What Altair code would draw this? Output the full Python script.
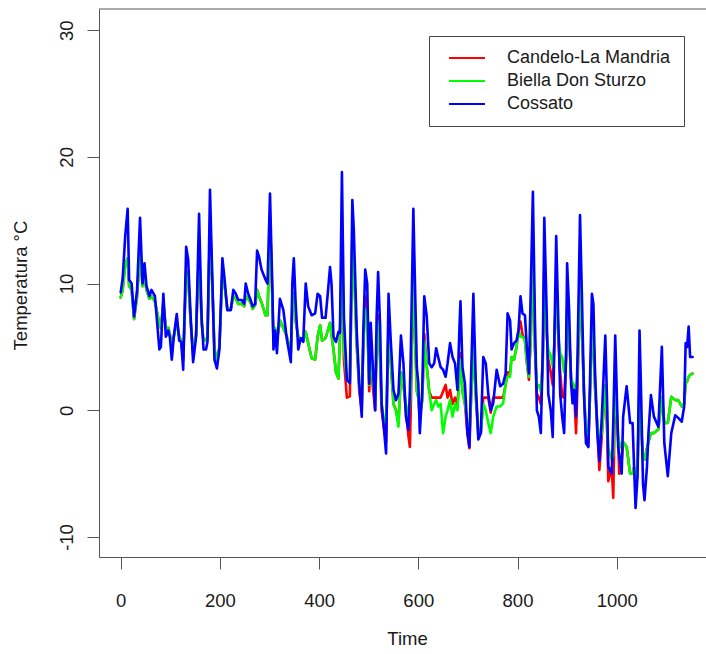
import altair as alt
import pandas as pd

# ---- data (time index, hourly temperatures in degC) ----
time = [
    0, 4, 9, 14, 17, 22, 27, 33, 39, 44,
    48, 52, 58, 62, 69, 78, 81, 86, 91, 96,
    99, 103, 107, 113, 118, 122, 126, 132, 136, 141,
    146, 152, 158, 163, 167, 172, 175, 180, 185, 189,
    194, 199, 205, 209, 215, 222, 227, 232, 237, 244,
    249, 252, 257, 262, 266, 271, 275, 279, 284, 292,
    296, 301, 306, 308, 311, 315, 321, 328, 335, 343,
    346, 349, 353, 358, 363, 368, 373, 378, 385, 392,
    397, 402, 406, 413, 417, 422, 425, 429, 434, 439,
    442, 446, 450, 456, 462, 467, 470, 476, 481, 486,
    489, 493, 497, 501, 504, 508, 513, 516, 519, 523,
    526, 531, 535, 540, 544, 550, 555, 560, 565, 570,
    575, 580, 583, 585, 590, 594, 597, 600, 603, 608,
    612, 617, 622, 627, 632, 636, 640, 645, 650, 655,
    659, 664, 669, 674, 679, 683, 685, 689, 694, 699,
    703, 706, 711, 716, 721, 726, 731, 736, 741, 746,
    751, 758, 765, 771, 776, 780, 785, 788, 793, 798,
    802, 806, 810, 815, 819, 823, 827, 831, 835, 839,
    843, 847, 851, 854, 859, 862, 867, 871, 874, 878,
    882, 886, 890, 894, 898, 900, 904, 908, 911, 914,
    918, 921, 926, 930, 934, 938, 943, 946, 950, 953,
    956, 961, 965, 970, 977, 981, 983, 990, 993, 997,
    1003, 1005, 1010, 1013, 1020, 1027, 1032, 1035, 1038, 1042,
    1046, 1049, 1053, 1056, 1061, 1064, 1069, 1075, 1084, 1091,
    1096, 1103, 1110, 1118, 1124, 1131, 1136, 1139, 1142, 1145,
    1148, 1153,
]

cossato = [
    9.3, 10.4, 13.7, 15.9, 10.3, 10.0, 7.4, 9.5, 15.2, 10.0,
    11.6, 9.8, 9.0, 9.5, 9.0, 4.8, 5.0, 9.2, 5.8, 6.3,
    5.8, 4.0, 5.8, 7.6, 5.5, 5.4, 3.2, 12.9, 11.9, 7.4,
    3.8, 5.8, 15.5, 7.4, 4.8, 4.8, 5.4, 17.4, 10.0, 4.0,
    3.3, 4.8, 12.0, 10.5, 7.9, 7.9, 9.5, 9.2, 8.7, 8.7,
    8.4, 10.0, 9.2, 8.7, 8.2, 8.4, 12.6, 12.1, 11.1, 10.3,
    10.0, 17.1, 9.2, 4.8, 6.3, 4.5, 8.8, 7.9, 5.6, 3.8,
    10.0, 12.0, 8.2, 4.8, 5.7, 5.4, 10.0, 8.2, 7.5, 7.65,
    9.2, 9.0, 7.3, 7.3, 9.0, 11.3, 10.0, 5.8, 5.4, 6.2,
    6.1, 18.8, 7.4, 2.4, 2.15, 16.6, 14.2, 6.1, 2.1, -0.5,
    6.1, 11.1, 10.0, 2.1, 6.9, 3.7, 0.0, 7.4, 10.9, 6.6,
    0.55, -1.55, -3.4, 9.2, 5.8, 1.6, 0.8, 1.3, 5.9, 3.7,
    -0.5, -1.55, 1.5, 4.8, 15.9, 8.7, 3.4, 2.1, -1.8, 1.6,
    9.0, 7.4, 3.7, 3.4, 3.7, 4.9, 4.2, 3.4, 3.2, 2.65,
    3.7, 5.3, 4.2, 3.7, 1.6, 6.6, 8.6, 3.4, 2.1, -1.8,
    -2.9, 2.1, 9.2, 2.1, -2.3, -1.8, 4.2, 3.7, 1.3, 0.0,
    0.55, 3.2, 1.9, 2.1, 2.9, 7.65, 7.1, 4.8, 5.3, 5.5,
    6.3, 9.0, 7.65, 7.5, 4.8, 2.9, 10.0, 17.25, 7.4, 0.0,
    -0.5, -1.8, 4.8, 15.2, 7.4, 1.3, 0.0, -2.1, 4.8, 13.75,
    7.4, 1.3, -0.5, -1.8, 4.8, 11.6, 7.9, 2.1, 0.55, 1.6,
    -0.5, 4.2, 15.4, 8.7, 1.3, -2.6, -2.9, 2.1, 9.2, 8.4,
    3.4, -1.8, -4.0, -0.5, 5.9, 0.0, -4.45, -5.0, -1.0, 5.9,
    -2.9, -3.5, -5.0, -0.5, 1.9, -1.0, -1.0, -4.45, -7.7, -5.2,
    6.3, 1.6, -5.8, -7.1, -4.45, -1.8, 1.2, -0.5, -1.3, 5.0,
    -2.6, -5.2, -1.8, -0.4, -0.6, -0.9, 0.3, 5.3, 5.0, 6.6,
    4.2, 4.2,
]

biella = [
    8.9, 9.5, 11.5, 12.0, 9.8, 9.5, 7.2, 9.0, 12.5, 9.8,
    10.5, 9.5, 8.8, 9.0, 8.6, 6.8, 6.5, 8.5, 6.5, 6.5,
    6.0, 5.0, 5.8, 7.0, 5.8, 5.5, 4.0, 11.0, 10.5, 7.0,
    4.5, 6.0, 13.0, 7.0, 5.5, 5.5, 5.8, 14.5, 9.5, 4.8,
    4.0, 5.0, 11.0, 10.0, 8.0, 8.0, 9.0, 8.8, 8.4, 8.4,
    8.2, 9.0, 8.8, 8.5, 8.0, 8.3, 9.5, 9.0, 8.5, 7.5,
    7.5, 15.0, 8.5, 5.5, 6.5, 5.5, 7.1, 6.5, 5.8, 4.5,
    8.0, 9.2, 7.0, 5.8, 5.5, 5.5, 6.2, 5.3, 4.1, 4.0,
    5.8, 6.7, 5.5, 5.7, 6.2, 6.9, 6.0, 4.8, 3.0, 2.5,
    5.8, 11.9, 4.8, 2.4, 2.2, 13.0, 11.0, 5.0, 2.0, 0.5,
    5.0, 8.0, 7.0, 2.0, 4.5, 2.5, 0.8, 5.0, 7.0, 4.0,
    0.5, -0.8, -1.0, 6.5, 4.0, 0.5, 0.0, -1.3, 3.0, 2.0,
    0.5, -0.5, 0.5, 2.0, 11.0, 5.0, 1.5, 1.0, -0.5, 0.8,
    5.5, 3.5, 1.5, 0.0, 0.5, 0.8, 0.3, 0.5, -1.8, -0.5,
    0.0, 0.8, -0.5, 0.5, 0.0, 2.5, 4.0, 1.5, 0.5, -1.0,
    -2.0, 0.5, 5.0, 1.0, -1.5, -1.8, 0.5, 0.0, -1.0, -1.8,
    -0.5, 0.3, 0.3, 0.55, 2.1, 2.65, 2.65, 4.2, 4.0, 5.0,
    6.3, 5.8, 5.8, 5.5, 3.7, 2.65, 6.0, 13.0, 5.0, 2.0,
    2.0, 1.5, 4.0, 11.0, 6.0, 4.8, 4.3, 3.5, 5.0, 10.0,
    6.0, 4.5, 4.2, 3.0, 4.0, 8.0, 6.0, 2.5, 2.2, 2.0,
    1.0, 3.0, 10.0, 6.0, 1.5, -1.5, -2.0, 1.0, 6.5, 6.0,
    2.0, -1.0, -2.5, -1.8, 2.0, -1.5, -3.0, -3.9, -3.5, 2.0,
    -2.0, -2.5, -3.0, -2.5, -2.9, -5.0, -5.0, -4.5, -5.5, -4.5,
    2.0, -1.0, -3.9, -3.9, -3.0, -2.5, -1.8, -1.8, -1.5, 1.0,
    -1.0, -1.0, 1.07, 0.8, 0.8, 0.3, 0.5, 2.1, 2.3, 2.65,
    2.8, 2.9,
]

candelo = [
    8.9, 9.5, 11.5, 12.0, 9.8, 9.5, 7.2, 9.0, 12.5, 9.8,
    10.5, 9.5, 8.8, 9.0, 8.6, 6.8, 6.5, 8.5, 6.5, 6.5,
    6.0, 5.0, 5.8, 7.0, 5.8, 5.5, 4.0, 11.0, 10.5, 7.0,
    4.5, 6.0, 13.0, 7.0, 5.5, 5.5, 5.8, 14.5, 9.5, 4.8,
    4.0, 5.0, 11.0, 10.0, 8.0, 8.0, 9.0, 8.8, 8.4, 8.4,
    8.2, 9.0, 8.8, 8.5, 8.0, 8.3, 9.5, 9.0, 8.5, 7.5,
    7.5, 15.0, 8.5, 5.5, 6.5, 5.5, 7.1, 6.5, 5.8, 4.5,
    8.0, 9.2, 7.0, 5.8, 5.5, 5.5, 6.2, 5.3, 4.1, 4.0,
    5.8, 6.7, 5.5, 5.7, 6.2, 6.9, 6.0, 4.8, 3.0, 2.5,
    5.8, 12.5, 4.0, 1.0, 1.1, 14.0, 12.0, 5.0, 1.5, 0.0,
    5.0, 9.0, 7.5, 1.5, 4.5, 2.0, 0.0, 5.0, 7.5, 4.0,
    0.0, -1.5, -2.5, 7.0, 4.0, 0.5, 0.0, -1.0, 3.0, 2.0,
    0.0, -2.0, -2.9, 0.5, 11.0, 5.0, 1.5, 1.0, -0.5, 0.8,
    6.0, 3.5, 1.5, 1.0, 1.0, 1.0, 1.0, 1.0, 1.5, 2.0,
    1.0, 1.6, 0.5, 1.0, 0.5, 3.0, 4.5, 1.5, 0.5, -1.8,
    -3.0, 0.5, 5.5, 1.0, -2.0, -1.8, 1.0, 1.0, 1.0, -0.2,
    1.0, 1.0, 1.0, 1.0, 2.0, 3.0, 3.0, 4.2, 4.0, 5.0,
    6.3, 7.0, 6.0, 5.5, 3.7, 2.4, 6.0, 13.0, 5.0, 1.3,
    1.0, 0.5, 4.0, 11.0, 6.0, 4.0, 3.0, 2.0, 5.0, 10.0,
    6.0, 3.0, 1.07, 1.0, 4.0, 8.0, 6.0, 2.5, 2.0, 1.6,
    -1.8, 2.0, 10.0, 6.0, 1.5, -2.0, -2.5, 1.0, 6.5, 6.0,
    2.0, -1.5, -4.7, -2.0, 2.0, -2.0, -5.6, -4.5, -6.9, 2.0,
    -2.5, -5.0, -4.0, -2.5, -2.9, -5.0, -5.0, -4.5, -5.5, -4.5,
    2.0, -1.0, -3.9, -3.9, -3.0, -2.5, -1.8, -1.8, -1.5, 1.0,
    -1.0, -1.0, 1.07, 0.8, 0.8, 0.3, 0.5, 2.1, 2.3, 2.65,
    2.8, 2.9,
]

series_names = ["Candelo-La Mandria", "Biella Don Sturzo", "Cossato"]
series_colors = ["#FF0000", "#00FF00", "#0000FF"]
x_ticks = [0, 200, 400, 600, 800, 1000]
y_ticks = [-10, 0, 10, 20, 30]
x_domain = [-43.75, 1180]
y_domain = [-11.58, 31.67]

df = pd.concat(
    [
        pd.DataFrame({"Time": time, "Temp": vals, "Serie": name})
        for name, vals in zip(series_names, [candelo, biella, cossato])
    ],
    ignore_index=True,
)

FONT = "Liberation Sans"
TXT = "#1a1a1a"
FRAME = "#555555"
FS = 18.5

lines = alt.Chart(df).mark_line(
    strokeWidth=2.6, clip=True, strokeJoin="round", strokeCap="round"
).encode(
    x=alt.X(
        "Time:Q",
        scale=alt.Scale(domain=x_domain, nice=False, zero=False),
        axis=alt.Axis(
            values=x_ticks, title="Time", grid=False, tickSize=12,
            labelExpr="'' + datum.value",
            labelPadding=22, labelFlush=False, labelOverlap=False,
            titleX=308, titleY=81, titleAlign="center", titleBaseline="middle",
        ),
    ),
    y=alt.Y(
        "Temp:Q",
        scale=alt.Scale(domain=y_domain, nice=False, zero=False),
        axis=alt.Axis(
            values=y_ticks, title="Temperatura °C", grid=False, tickSize=12,
            labelExpr="'' + datum.value",
            labelAngle=270, labelAlign="center", labelBaseline="middle",
            labelPadding=21, labelFlush=False, labelOverlap=False,
            titleAngle=270, titleX=-79, titleY=276,
            titleAlign="center", titleBaseline="middle",
        ),
    ),
    color=alt.Color(
        "Serie:N",
        scale=alt.Scale(domain=series_names, range=series_colors),
        legend=alt.Legend(
            title=None, orient="none", legendX=330, legendY=27,
            direction="vertical", symbolType="M-0.5,0H8.5", symbolSize=64,
            symbolStrokeWidth=2, labelFontSize=18, labelFont=FONT,
            labelColor=TXT, labelLimit=400, labelOffset=47, padding=13,
            rowPadding=5, strokeColor="#444444", fillColor="white",
        ),
    ),
)

top_frame = alt.Chart(pd.DataFrame({"Temp": [y_domain[1]]})).mark_rule(
    color=FRAME, strokeWidth=1
).encode(y="Temp:Q")

chart = (
    alt.layer(lines, top_frame)
    .properties(
        width=607, height=548,
        autosize=alt.AutoSizeParams(type="none"),
        padding={"left": 99, "top": 9, "right": 0, "bottom": 96},
        background="white",
    )
    .configure_view(stroke=None)
    .configure_axis(
        labelFont=FONT, titleFont=FONT, labelFontSize=FS, titleFontSize=FS,
        titleFontWeight="normal", labelColor=TXT, titleColor=TXT,
        domainColor=FRAME, tickColor=FRAME, domainWidth=1, tickWidth=1,
    )
)

chart.save("out.html", embed_options={"renderer": "svg", "actions": False})
